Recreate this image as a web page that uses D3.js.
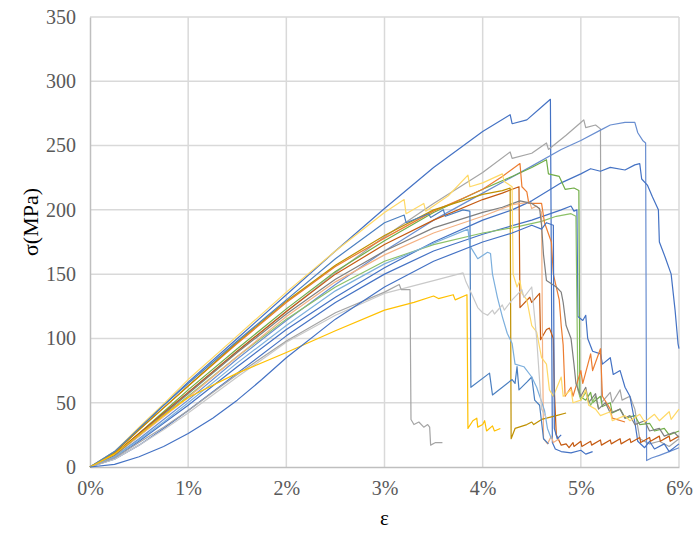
<!DOCTYPE html>
<html>
<head>
<meta charset="utf-8">
<script src="https://cdn.jsdelivr.net/npm/d3@7"></script>
<style>
  body { margin: 0; background: #fff; }
  svg { display: block; }
</style>
</head>
<body>
<div id="chart"></div>
<script>
// axis ticks
var xTicks = [0, 1, 2, 3, 4, 5, 6];          // strain, %
var yTicks = [0, 50, 100, 150, 200, 250, 300, 350];   // MPa

// each specimen: [strain %, stress MPa]
var curve01 = [[0,0],[0.25,12],[0.5,30],[0.75,48],[1,66],[1.5,100],[2,134],[2.5,168],[3,201],[3.5,233],[4,261],[4.28,274],[4.3,267],[4.45,270],[4.6,280],[4.69,286],[4.71,19],[4.74,14],[4.8,12],[4.9,11],[5,13],[5.05,10],[5.12,12]];
var curve02 = [[0,0],[0.25,10],[0.5,26],[0.75,42],[1,58],[1.5,90],[2,121],[2.5,151],[3,179],[3.5,205],[4,229],[4.28,245],[4.3,240],[4.5,244],[4.65,252],[4.67,247],[4.85,258],[5,268],[5.03,270],[5.05,264],[5.15,266],[5.2,263],[5.21,50],[5.3,58],[5.32,50],[5.4,60],[5.42,52],[5.5,55],[5.55,45],[5.6,22],[5.7,18],[5.8,20],[5.9,16],[6,22]];
var curve03 = [[0,0],[0.25,8],[0.5,22],[0.75,37],[1,52],[1.5,84],[2,114],[2.5,142],[3,168],[3.5,192],[4,213],[4.5,234],[4.8,247],[5,254],[5.2,262],[5.3,266],[5.45,268],[5.55,268],[5.58,260],[5.63,254],[5.66,252],[5.67,5],[5.72,7],[5.8,9],[5.9,12],[6,15]];
var curve04 = [[0,0],[0.25,7],[0.5,20],[0.75,34],[1,48],[1.5,78],[2,107],[2.5,132],[3,155],[3.5,175],[4,192],[4.3,200],[4.5,207],[4.8,221],[5,228],[5.1,232],[5.2,230],[5.3,233],[5.45,231],[5.55,235],[5.6,236],[5.62,224],[5.68,219],[5.73,210],[5.79,200],[5.8,175],[5.86,163],[5.92,150],[5.96,122],[5.99,96],[6,92]];
var curve05 = [[0,0],[0.25,10],[0.5,26],[0.75,43],[1,60],[1.5,92],[2,123],[2.5,152],[3,176],[3.5,198],[4,216],[4.3,226],[4.5,233],[4.65,239],[4.67,228],[4.78,226],[4.84,216],[4.93,217],[4.98,215],[4.99,55],[5.05,52],[5.1,58],[5.12,50],[5.2,55],[5.22,47],[5.3,50],[5.32,42],[5.4,45],[5.45,38],[5.55,40],[5.6,33],[5.7,34],[5.75,28],[5.85,30],[5.9,25],[6,28]];
var curve06 = [[0,0],[0.25,6],[0.5,17],[0.75,30],[1,44],[1.5,73],[2,102],[2.5,128],[3,150],[3.5,168],[4,181],[4.5,192],[4.8,200],[4.9,203],[4.93,199],[4.96,200],[4.97,117],[5.02,114],[5.05,118],[5.07,100],[5.12,90],[5.2,88],[5.22,80],[5.3,85],[5.33,72],[5.4,75],[5.45,62],[5.5,55],[5.55,35],[5.58,20],[5.65,15],[5.7,20],[5.75,14],[5.85,18],[5.9,12],[6,18]];
var curve07 = [[0,0],[0.25,9],[0.5,24],[0.75,40],[1,55],[1.5,86],[2,115],[2.5,140],[3,160],[3.5,173],[4,182],[4.3,186],[4.6,191],[4.75,195],[4.9,197],[4.95,195],[4.97,60],[5,52],[5.05,58],[5.1,48],[5.15,55],[5.18,46]];
var curve08 = [[0,0],[0.25,11],[0.5,29],[0.75,46],[1,63],[1.5,96],[2,128],[2.5,156],[3,178],[3.5,199],[3.8,209],[4,216],[4.2,226],[4.38,236],[4.4,218],[4.45,214],[4.47,205],[4.6,205],[4.63,190],[4.7,175],[4.72,150],[4.78,130],[4.8,110],[4.82,95],[4.84,55],[4.9,62],[4.92,55],[5,75],[5.02,65],[5.1,88],[5.12,75],[5.2,92],[5.22,55],[5.3,45],[5.32,38],[5.45,35]];
var curve09 = [[0,0],[0.25,10],[0.5,26],[0.75,42],[1,58],[1.5,90],[2,121],[2.5,150],[3,173],[3.5,192],[4,208],[4.2,213],[4.37,218],[4.38,124],[4.48,132],[4.5,128],[4.58,135],[4.59,99],[4.65,107],[4.68,108],[4.72,100],[4.73,60],[4.75,25],[4.8,17],[4.85,18],[4.88,15],[4.92,19],[4.93,16],[5,20],[5.01,16],[5.1,20],[5.11,17],[5.2,21],[5.21,17],[5.3,21],[5.31,18],[5.4,22],[5.41,18],[5.5,22],[5.51,19],[5.6,23],[5.61,19],[5.7,23],[5.71,20],[5.8,24],[5.81,20],[5.9,24],[5.91,20],[6,24]];
var curve10 = [[0,0],[0.25,9],[0.5,24],[0.75,39],[1,54],[1.5,86],[2,117],[2.5,144],[3,165],[3.5,182],[4,195],[4.3,204],[4.48,206],[4.5,201],[4.55,203],[4.6,198],[4.61,90],[4.62,22],[4.66,18],[4.7,24],[4.72,19],[4.78,22]];
var curve11 = [[0,0],[0.25,9],[0.5,25],[0.75,41],[1,57],[1.5,89],[2,119],[2.5,146],[3,168],[3.5,186],[4,198],[4.2,202],[4.38,207],[4.5,205],[4.58,201],[4.6,188],[4.62,165],[4.65,145],[4.75,140],[4.8,136],[4.82,128],[4.85,110],[4.9,100],[4.93,80],[4.95,65],[5,55],[5.05,62],[5.08,50],[5.15,57],[5.18,45],[5.25,50],[5.3,42],[5.4,45],[5.45,38],[5.5,40],[5.55,33],[5.65,36],[5.7,28],[5.8,30],[5.85,24],[5.95,27],[6,23]];
var curve12 = [[0,0],[0.25,12],[0.5,31],[0.75,49],[1,68],[1.5,102],[2,136],[2.5,168],[3,198],[3.2,208],[3.22,197],[3.4,205],[3.42,199],[3.65,211],[3.85,227],[3.87,218],[4,221],[4.2,228],[4.22,222],[4.3,218],[4.31,150],[4.35,140],[4.38,145],[4.4,135],[4.45,130],[4.5,110],[4.55,105],[4.6,85],[4.65,80],[4.68,60],[4.72,55],[4.8,70],[4.82,55],[4.9,60],[4.92,50],[5,52],[5.05,60],[5.08,48],[5.15,45],[5.2,40],[5.3,43],[5.32,36],[5.45,40],[5.5,36],[5.6,41],[5.65,35],[5.75,41],[5.8,36],[5.9,43],[5.92,37],[6,45]];
var curve13 = [[0,0],[0.25,11],[0.5,29],[0.75,46],[1,63],[1.5,97],[2,129],[2.5,157],[3,180],[3.5,200],[4,212],[4.2,215],[4.28,217],[4.29,22],[4.33,30],[4.45,33],[4.5,35],[4.52,33],[4.6,37],[4.75,40],[4.85,42]];
var curve14 = [[0,0],[0.25,12],[0.5,30],[0.75,48],[1,65],[1.5,98],[2,130],[2.5,162],[3,190],[3.2,196],[3.22,190],[3.45,197],[3.47,194],[3.6,200],[3.62,195],[3.8,200],[3.87,199],[3.88,62],[4.07,73],[4.1,56],[4.3,68],[4.33,65],[4.35,78],[4.37,60],[4.45,66],[4.5,70],[4.53,52],[4.58,48],[4.6,35],[4.62,22],[4.67,18]];
var curve15 = [[0,0],[0.25,8],[0.5,21],[0.75,35],[1,50],[1.5,81],[2,110],[2.5,137],[3,158],[3.5,174],[3.85,185],[3.87,172],[3.95,162],[4.05,167],[4.08,166],[4.1,150],[4.15,132],[4.2,117],[4.25,104],[4.3,96],[4.33,80],[4.42,78],[4.5,70],[4.55,62],[4.63,44],[4.66,30],[4.7,22]];
var curve16 = [[0,0],[0.25,6],[0.5,17],[0.75,29],[1,42],[1.5,70],[2,97],[2.5,118],[3,135],[3.5,145],[3.8,151],[3.83,144],[3.88,136],[3.95,124],[4,120],[4.05,118],[4.1,122],[4.12,119],[4.2,126],[4.22,122],[4.3,130],[4.4,138],[4.42,132],[4.5,140],[4.55,100],[4.6,45],[4.65,38]];
var curve17 = [[0,0],[0.25,7],[0.5,19],[0.75,31],[1,44],[1.5,72],[2,98],[2.5,120],[3,136],[3.15,142],[3.17,138],[3.26,138],[3.27,37],[3.3,33],[3.35,35],[3.4,31],[3.44,33],[3.46,31],[3.47,17],[3.52,19],[3.59,19]];
var curve18 = [[0,0],[0.25,10],[0.5,25],[0.75,40],[1,54],[1.5,73],[2,89],[2.5,106],[3,122],[3.3,128],[3.5,133],[3.55,131],[3.7,134],[3.72,130],[3.84,134],[3.85,30],[3.9,36],[3.94,38],[3.95,31],[4,33],[4.02,36],[4.04,28],[4.1,32],[4.12,28],[4.18,30]];
var curve19 = [[0,0],[0.25,2],[0.5,8],[0.75,16],[1,26],[1.25,38],[1.5,52],[1.75,68],[2,85],[2.5,115],[3,140],[3.5,160],[4,175],[4.3,182],[4.5,188],[4.6,185],[4.65,190],[4.72,188],[4.73,30],[4.76,22],[4.8,25]];

var curves = [curve01, curve02, curve03, curve04, curve05, curve06, curve07, curve08, curve09, curve10,
              curve11, curve12, curve13, curve14, curve15, curve16, curve17, curve18, curve19];
var curveColors = ["#4472C4", "#A5A5A5", "#698ED0", "#4472C4", "#70AD47", "#4472C4", "#8CC168", "#ED7D31", "#C55A11", "#F4B183",
                   "#7F7F7F", "#FFD966", "#BF9000", "#4A7FC0", "#7CAFDD", "#C9C9C9", "#A5A5A5", "#FFC000", "#4472C4"];

var margin = {top: 17, right: 15, bottom: 66, left: 90};
var totalW = 694, totalH = 533;
var width = totalW - margin.left - margin.right,
    height = totalH - margin.top - margin.bottom;

var svg = d3.select("#chart")
  .append("svg")
    .attr("width", totalW)
    .attr("height", totalH);

var chart = svg.append("g")
    .attr("transform", "translate(" + margin.left + "," + margin.top + ")");

var xScale = d3.scaleLinear().domain([0, 6]).range([0, width]);
var yScale = d3.scaleLinear().domain([0, 350]).range([height, 0]);

// gridlines
chart.append("g")
  .selectAll("line")
  .data(yTicks.slice(1))
  .enter().append("line")
    .attr("x1", 0).attr("x2", width)
    .attr("y1", d => yScale(d)).attr("y2", d => yScale(d))
    .attr("stroke", "#d9d9d9").attr("stroke-width", 1.5);
chart.append("g")
  .selectAll("line")
  .data(xTicks.slice(1))
  .enter().append("line")
    .attr("y1", 0).attr("y2", height)
    .attr("x1", d => xScale(d)).attr("x2", d => xScale(d))
    .attr("stroke", "#d9d9d9").attr("stroke-width", 1.5);

// axes
var xAxis = chart.append("g")
  .attr("transform", `translate(0, ${height})`)
  .call(d3.axisBottom(xScale).tickValues(xTicks).tickSize(0).tickPadding(14).tickFormat(d => d + "%"));
var yAxis = chart.append("g")
  .call(d3.axisLeft(yScale).tickValues(yTicks).tickSize(0).tickPadding(14));
[xAxis, yAxis].forEach(function(ax) {
  ax.select(".domain").attr("stroke", "#bfbfbf").attr("stroke-width", 1.5);
  ax.selectAll("text")
    .attr("font-family", "'Liberation Serif', 'Times New Roman', serif")
    .attr("font-size", "20px")
    .attr("fill", "#595959");
});

// curves
var line = d3.line()
  .x(d => xScale(d[0]))
  .y(d => yScale(d[1]));

chart.append("g")
  .selectAll("path")
  .data(curves)
  .enter().append("path")
    .attr("d", line)
    .attr("fill", "none")
    .attr("stroke", (d, i) => curveColors[i])
    .attr("stroke-width", 1.2)
    .attr("stroke-linejoin", "round");

// axis titles
svg.append("text")
  .attr("x", margin.left + width / 2)
  .attr("y", 525)
  .attr("text-anchor", "middle")
  .attr("font-family", "'Liberation Serif', 'Times New Roman', serif")
  .attr("font-size", "21px")
  .attr("fill", "#000")
  .text("ε");
svg.append("text")
  .attr("transform", "translate(38,222) rotate(-90)")
  .attr("text-anchor", "middle")
  .attr("font-family", "'Liberation Serif', 'Times New Roman', serif")
  .attr("font-size", "22px")
  .attr("fill", "#000")
  .text("σ(MPa)");
</script>
</body>
</html>
